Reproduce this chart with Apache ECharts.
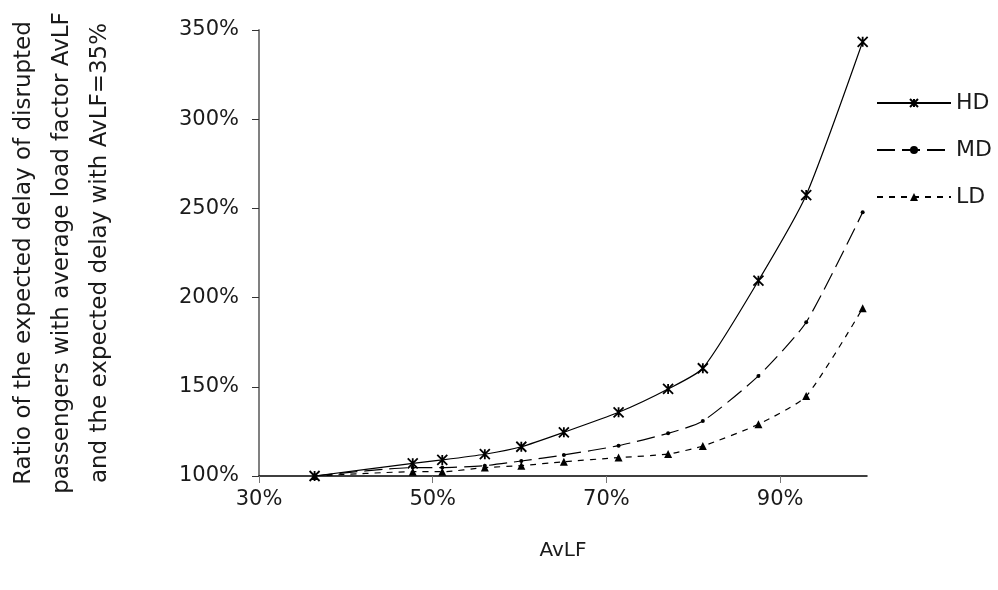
<!DOCTYPE html>
<html>
<head>
<meta charset="utf-8">
<script src="https://cdn.jsdelivr.net/npm/echarts@6/dist/echarts.min.js"></script>
<style>
  html, body { margin: 0; padding: 0; background: #fff; }
  #chart { width: 998px; height: 590px; }
</style>
</head>
<body>
<div id="chart"></div>
<script>
// AvLF values (%) where the markers sit
var avlf = [36.4, 47.7, 51.1, 56.0, 60.2, 65.1, 71.4, 77.1, 81.1, 87.5, 93.0, 99.5]
// ratio of expected delay vs AvLF=35% (%)
var hd = [100, 107.1, 109.0, 112.2, 116.4, 124.5, 135.7, 148.8, 160.4, 209.5, 257.5, 343.4]
var md = [100, 104.7, 104.7, 105.8, 108.4, 111.8, 117.0, 123.9, 130.8, 156.1, 186.2, 247.8]
var ld = [100, 102.4, 102.4, 104.7, 105.8, 108.0, 110.3, 112.3, 116.8, 129.0, 144.8, 194.0]
var xTicks = [30, 50, 70, 90]

function pairs(ys) {
  return avlf.map(function(x, i) { return [x, ys[i]] })
}

var font = 'DejaVu Sans'
var chart = echarts.init(document.getElementById('chart'))
chart.setOption({
  animation: false,
  textStyle: { fontFamily: font, color: '#1a1a1a' },
  grid: { left: 259, right: 131, top: 30, bottom: 114, outerBoundsMode: 'none' },
  legend: {
    orient: 'vertical',
    left: 871,
    top: 87,
    itemWidth: 74,
    itemHeight: 10,
    itemGap: 25,
    textStyle: { fontFamily: font, fontSize: 22, color: '#1a1a1a' },
    data: ['HD', 'MD', 'LD']
  },
  xAxis: {
    type: 'value',
    min: 30,
    max: 100,
    interval: 20,
    name: 'AvLF',
    nameLocation: 'middle',
    nameGap: 65,
    nameTextStyle: { fontSize: 20, color: '#1a1a1a' },
    splitLine: { show: false },
    axisLine: { lineStyle: { color: '#000', width: 1.5 } },
    axisTick: { customValues: xTicks, length: 7, lineStyle: { color: '#777' } },
    axisLabel: {
      customValues: xTicks,
      margin: 13,
      fontSize: 21,
      color: '#1a1a1a',
      formatter: '{value}%'
    }
  },
  yAxis: {
    type: 'value',
    min: 100,
    max: 350,
    interval: 50,
    name: 'Ratio of the expected delay of disrupted\npassengers with average load factor AvLF\nand the expected delay with AvLF=35%',
    nameLocation: 'middle',
    nameRotate: 90,
    nameGap: 140,
    nameTextStyle: { fontSize: 23, lineHeight: 38, color: '#1a1a1a', align: 'center' },
    splitLine: { show: false },
    axisLine: { show: true, lineStyle: { color: '#808080', width: 2 } },
    axisTick: { show: true, length: 7, lineStyle: { color: '#333' } },
    axisLabel: { margin: 20, fontSize: 21, color: '#1a1a1a', formatter: '{value}%' }
  },
  series: [
    {
      name: 'HD',
      type: 'line',
      smooth: 0.2,
      data: pairs(hd),
      symbol: 'path://M0,0L10,10M10,0L0,10M5,0L5,10',
      symbolSize: 10,
      lineStyle: { color: '#000', width: 1.2, type: 'solid' },
      itemStyle: { color: '#000', borderColor: '#000', borderWidth: 1.8 }
    },
    {
      name: 'MD',
      type: 'line',
      smooth: 0.2,
      data: pairs(md),
      symbol: 'circle',
      symbolSize: 4,
      lineStyle: { color: '#000', width: 1.2, type: [18, 7] },
      itemStyle: { color: '#000', borderWidth: 0 }
    },
    {
      name: 'LD',
      type: 'line',
      smooth: 0.2,
      data: pairs(ld),
      symbol: 'triangle',
      symbolSize: 8,
      lineStyle: { color: '#000', width: 1.2, type: [6, 6] },
      itemStyle: { color: '#000', borderWidth: 0 }
    }
  ]
})
</script>
</body>
</html>
